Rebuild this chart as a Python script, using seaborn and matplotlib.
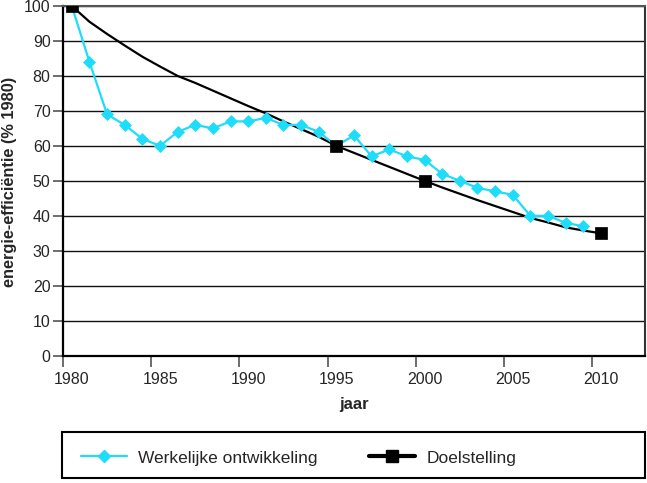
import numpy as np
import pandas as pd
import matplotlib
matplotlib.use("Agg")
import matplotlib.pyplot as plt
import matplotlib.transforms as mtransforms
import seaborn as sns
from matplotlib.lines import Line2D
from matplotlib.patches import Rectangle

# ---- data ----
years_actual = list(range(1980, 2010))
werkelijk = [100, 84, 69, 66, 62, 60, 64, 66, 65, 67, 67, 68, 66, 66, 64,
             60, 63, 57, 59, 57, 56, 52, 50, 48, 47, 46, 40, 40, 38, 37]
years_target = [1980, 1995, 2000, 2010]
doel = [100, 60, 50, 35]
years_curve = list(range(1980, 2011))
doel_curve = [100, 95.5, 92.0, 88.7, 85.5, 82.7, 80.0, 78.0, 75.8, 73.6,
              71.4, 69.3, 67.0, 64.8, 62.6, 60.0, 58.0, 56.0, 54.0, 52.0,
              50.0, 48.1, 46.3, 44.5, 42.8, 41.1, 39.4, 38.1, 36.7, 35.8, 35.0]
xticks = [1980, 1985, 1990, 1995, 2000, 2005, 2010]
yticks = list(range(0, 101, 10))
label_actual = "Werkelijke ontwikkeling"
label_target = "Doelstelling"
xlabel = "jaar"
ylabel = "energie-efficiëntie (% 1980)"

CYAN = "#1edcfa"

sns.set_style("white")
plt.rcParams["font.family"] = ["Liberation Sans", "DejaVu Sans"]

df_act = pd.DataFrame({"x": np.array(years_actual) + 0.5, "y": werkelijk})
df_cur = pd.DataFrame({"x": np.array(years_curve) + 0.5, "y": doel_curve})
df_tgt = pd.DataFrame({"x": np.array(years_target) + 0.5, "y": doel})

fig = plt.figure(figsize=(6.47, 4.83), dpi=100)
ax = fig.add_axes([63 / 647, 1 - 355.7 / 483, (645 - 63) / 647, (355.7 - 6) / 483])

for yv in yticks[1:]:
    ax.axhline(yv, color="#111111", lw=1.0, zorder=1)

sns.lineplot(data=df_cur, x="x", y="y", ax=ax, color="black", lw=1.6,
             sort=False, zorder=3)
sns.lineplot(data=df_act, x="x", y="y", ax=ax, color=CYAN, lw=1.6,
             marker="D", markersize=6, markeredgewidth=0.5, markeredgecolor=CYAN,
             sort=False, zorder=4)
sns.scatterplot(data=df_tgt, x="x", y="y", ax=ax, color="black", marker="s",
                s=68, edgecolor="black", linewidth=0.5, zorder=5)

ax.set_xlim(1980, 2013)
ax.set_ylim(0, 100)
ax.set_xticks(xticks)
ax.set_yticks(yticks)
ax.tick_params(axis="x", direction="out", length=8, width=1.2, color="#555555",
               labelsize=11.5, pad=4, bottom=True)
ax.tick_params(axis="y", direction="out", length=7, width=1.2, color="#555555",
               labelsize=11.5, pad=2, left=True)
shift = mtransforms.ScaledTranslation(9 / 100, 0, fig.dpi_scale_trans)
for lab in ax.get_xticklabels():
    lab.set_transform(lab.get_transform() + shift)
ax.set_xlabel("")
ax.set_ylabel("")

for side in ["left", "bottom"]:
    ax.spines[side].set_linewidth(1.6)
    ax.spines[side].set_color("black")
ax.spines["top"].set_linewidth(1.5)
ax.spines["top"].set_color("#555555")
ax.spines["right"].set_linewidth(1.5)
ax.spines["right"].set_color("#333333")

fig.text(354 / 647, 1 - 405 / 483, xlabel, ha="center", va="center",
         fontsize=12, fontweight="bold")
fig.text(10 / 647, 1 - 182 / 483, ylabel, ha="center", va="center",
         rotation=90, fontsize=11.8, fontweight="bold")

# legend box
fig.patches.append(Rectangle((62 / 647, 1 - 478 / 483), 583 / 647, 46 / 483,
                             transform=fig.transFigure, fill=False,
                             edgecolor="black", lw=1.5))
handles = [
    Line2D([], [], color=CYAN, lw=1.6, marker="D", markersize=6,
           markeredgecolor=CYAN),
    Line2D([], [], color="black", lw=3, marker="s", markersize=8),
]
fig.legend(handles, [label_actual, label_target], loc="center left",
           bbox_to_anchor=(81 / 647, 1 - 458 / 483), ncol=2, frameon=False,
           fontsize=12.5, handlelength=2.65, handletextpad=0.62, columnspacing=3.0,
           borderpad=0, borderaxespad=0)

fig.savefig("out.png", dpi=100)
